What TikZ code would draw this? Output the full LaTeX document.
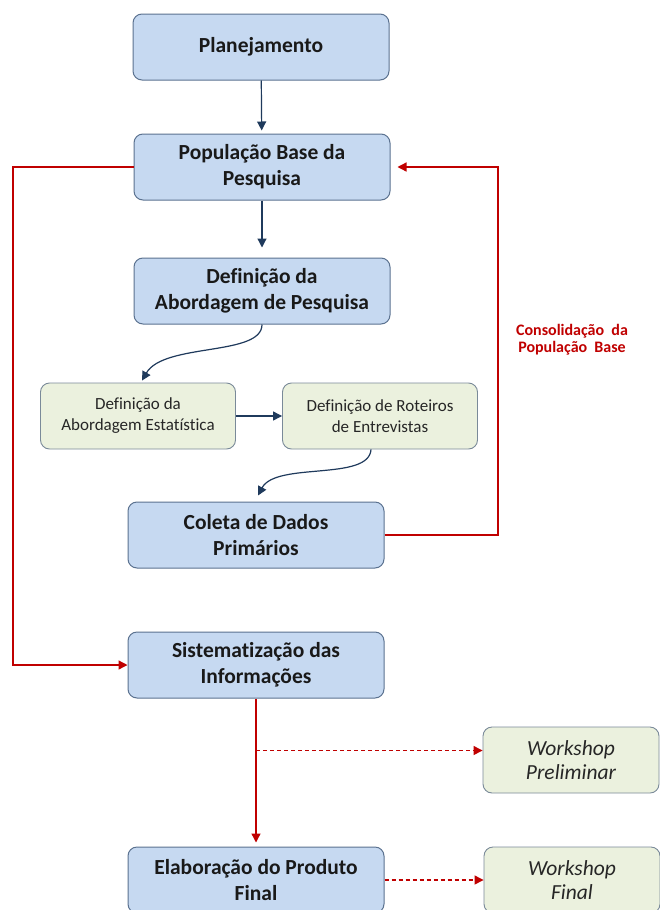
\documentclass[tikz,border=0pt]{standalone}
\usepackage{fontspec}
\setmainfont{Carlito}[Ligatures=NoCommon]
\usetikzlibrary{arrows.meta,calc}
\definecolor{bluefill}{HTML}{C6D9F1}
\definecolor{blueline}{HTML}{5B7290}
\definecolor{greenfill}{HTML}{EBF1DE}
\definecolor{greenline}{HTML}{7A8A99}
\definecolor{navy}{HTML}{1F3A5C}
\definecolor{darkred}{HTML}{C00000}
\begin{document}
\begin{tikzpicture}[x=1pt,y=-1pt,
 bluebox/.style={draw=blueline, line width=1pt, fill=bluefill, rounded corners=9pt, minimum width=256pt, minimum height=66pt, align=center, font=\fontsize{21.5}{26}\selectfont\bfseries, text=black!90, inner sep=0pt},
 greenbox/.style={draw=greenline, line width=0.9pt, fill=greenfill, rounded corners=9pt, minimum width=195pt, minimum height=66pt, align=center, font=\fontsize{17}{21}\selectfont, text=black!85, inner sep=0pt},
 wsbox/.style={greenbox, minimum width=176pt, font=\fontsize{21.5}{24}\selectfont\itshape},
 navyarrow/.style={draw=navy, line width=1.2pt, -{Triangle[length=9pt,width=9pt]}},
 redarrow/.style={draw=darkred, line width=1.3pt, -{Triangle[length=9pt,width=9pt]}},
 lbl/.style={text=darkred, align=center, font=\fontsize{16}{17}\selectfont\bfseries, inner sep=0pt},
]
\useasboundingbox (0,0) rectangle (660,910);
\clip (0,0) rectangle (660,910);
\fill[white] (0,0) rectangle (660,910);

\node[bluebox] (plan) at (261,47) {Planejamento};
\node[bluebox] (pop) at (262,167) {População Base da\\Pesquisa};
\node[bluebox] (abp) at (262,291) {Definição da\\Abordagem de Pesquisa};
\node[greenbox] (est) at (138,416) {Definição da\\Abordagem Estatística};
\node[greenbox] (rot) at (380,416) {Definição de Roteiros\\de Entrevistas};
\node[bluebox] (col) at (256,535) {Coleta de Dados\\Primários};
\node[bluebox] (sis) at (256,665) {Sistematização das\\Informações};
\node[bluebox] (ela) at (256,880) {Elaboração do Produto\\Final};
\node[wsbox] (wp) at (571,760) {Workshop\\Preliminar};
\node[wsbox] (wf) at (572,880) {Workshop\\Final};
\node[lbl] (lab) at (572,340) {Consolidação~~da\\População~~Base};

\draw[navyarrow, shorten >=3pt] (plan) -- (pop);
\draw[navyarrow, shorten >=10pt] (pop) -- (abp);
\draw[navyarrow] (abp.south) .. controls +(0,32) and +(22,-38) .. ($(est.north)+(4,-2)$);
\draw[navyarrow] (est) -- (rot);
\draw[navyarrow] ($(rot.south)+(-9,0)$) .. controls +(-2,32) and +(18,-34) .. ($(col.north)+(2,-6)$);

\coordinate (rc) at (498,0);
\coordinate (lc) at (13,0);
\draw[redarrow, shorten >=7pt] (col.east) -- (col.east -| rc) |- (pop.east);
\draw[redarrow] (pop.west) -- (pop.west -| lc) |- (sis.west);
\draw[redarrow, shorten >=4pt] (sis) -- (ela);
\path (sis.south) ++(0,52) coordinate (d1);
\draw[redarrow, dashed, dash pattern=on 4pt off 3pt] (d1) -- (d1 -| wp.west);
\draw[redarrow, dashed, dash pattern=on 4pt off 3pt] (ela.east) -- (wf.west);
\end{tikzpicture}
\end{document}
